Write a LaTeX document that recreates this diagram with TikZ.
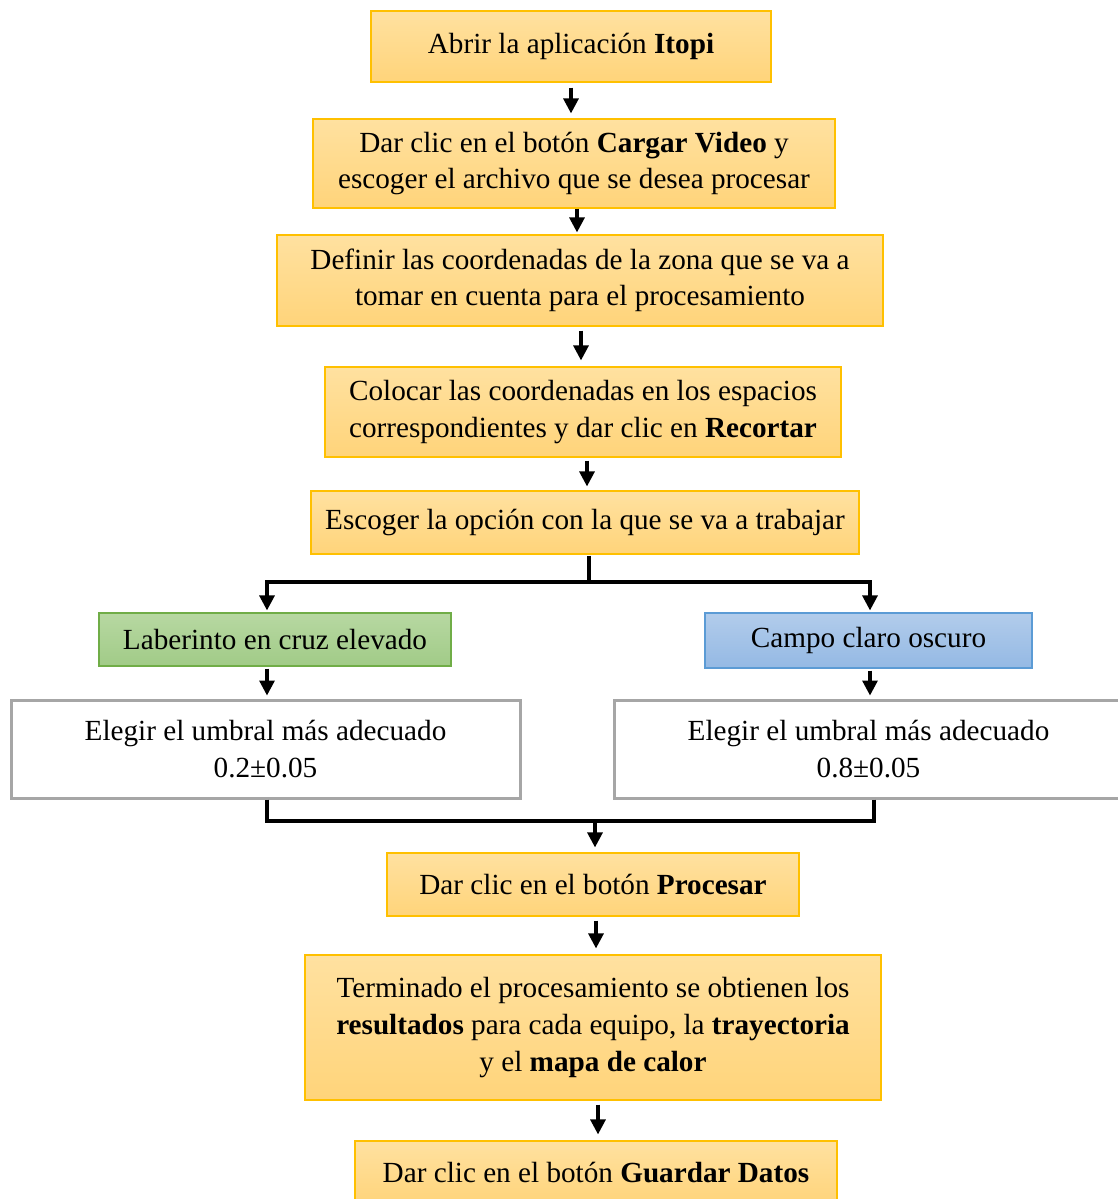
\documentclass[tikz,border=0pt]{standalone}
\usepackage{fontspec}
\setmainfont{Liberation Serif}
\usetikzlibrary{arrows.meta}
\definecolor{obord}{RGB}{255,192,0}
\definecolor{otop}{RGB}{255,225,160}
\definecolor{obot}{RGB}{255,212,122}
\definecolor{gbord}{RGB}{112,173,71}
\definecolor{gtop}{RGB}{183,216,162}
\definecolor{gbot}{RGB}{161,203,135}
\definecolor{bbord}{RGB}{91,155,213}
\definecolor{btop}{RGB}{178,204,235}
\definecolor{bbot}{RGB}{148,185,228}
\definecolor{wbord}{RGB}{166,166,166}
\tikzset{
  base/.style={rectangle, align=center, inner sep=0pt, font=\fontsize{14.6}{18.3}\selectfont},
  obox/.style={base, draw=obord, line width=0.6pt, top color=otop, bottom color=obot},
  gbox/.style={base, draw=gbord, line width=0.6pt, top color=gtop, bottom color=gbot},
  bbox/.style={base, draw=bbord, line width=0.6pt, top color=btop, bottom color=bbot},
  wbox/.style={base, draw=wbord, line width=1.5pt, fill=white},
  conn/.style={line width=1.6pt, black},
  arr/.style={conn, -{Triangle[length=7.5pt,width=7.5pt]}},
}
\begin{document}
\begin{tikzpicture}[x=0.5pt,y=-0.5pt]
\useasboundingbox (0,0) rectangle (1118,1199);
\node[obox, minimum width=200pt, minimum height=35.5pt] (n1) at (571,46.5) {Abrir la aplicación \textbf{Itopi}};
\node[obox, minimum width=261pt, minimum height=44.5pt] (n2) at (574,163.5) {Dar clic en el botón \textbf{Cargar Video} y\\escoger el archivo que se desea procesar};
\node[obox, minimum width=303pt, minimum height=45.5pt] (n3) at (580,280.5) {Definir las coordenadas de la zona que se va a\\tomar en cuenta para el procesamiento};
\node[obox, minimum width=258pt, minimum height=45pt] (n4) at (583,412) {Colocar las coordenadas en los espacios\\correspondientes y dar clic en \textbf{Recortar}};
\node[obox, minimum width=274pt, minimum height=31.5pt] (n5) at (585,522.5) {Escoger la opción con la que se va a trabajar};
\node[gbox, minimum width=176pt, minimum height=26.5pt] (n6) at (275,639.5) {Laberinto en cruz elevado};
\node[bbox, minimum width=163.5pt, minimum height=27.5pt] (n7) at (868.5,640.5) {Campo claro oscuro};
\node[wbox, minimum width=254.5pt, minimum height=49pt] (n8) at (265.5,749) {Elegir el umbral más adecuado\\0.2±0.05};
\node[wbox, minimum width=254.5pt, minimum height=49pt] (n9) at (868.5,749) {Elegir el umbral más adecuado\\0.8±0.05};
\node[obox, minimum width=206pt, minimum height=31.5pt] (n10) at (593,884.5) {Dar clic en el botón \textbf{Procesar}};
\node[obox, minimum width=288pt, minimum height=72.5pt] (n11) at (593,1027.5) {Terminado el procesamiento se obtienen los\\\textbf{resultados} para cada equipo, la \textbf{trayectoria}\\y el \textbf{mapa de calor}};
\node[obox, minimum width=241pt, minimum height=32pt] (n12) at (596,1173) {Dar clic en el botón \textbf{Guardar Datos}};
% straight arrows
\coordinate (a1) at (571,86);
\draw[arr] ([yshift=-2.5pt]n1.south -| a1) -- ([yshift=2.5pt]n2.north -| a1);
\coordinate (a2) at (577,208);
\draw[arr] (n2.south -| a2) -- ([yshift=1pt]n3.north -| a2);
\coordinate (a3) at (581,330);
\draw[arr] ([yshift=-2pt]n3.south -| a3) -- ([yshift=3pt]n4.north -| a3);
\coordinate (a4) at (587,460);
\draw[arr] ([yshift=-1.5pt]n4.south -| a4) -- ([yshift=2pt]n5.north -| a4);
% split
\coordinate (sp) at (589,582);
\coordinate (sl) at (267,582);
\coordinate (sr) at (870,582);
\draw[conn] ([yshift=-0.5pt]n5.south -| sp) -- (sp);
\draw[conn, line cap=rect] (sl) -- (sr);
\draw[arr] (sl) -- ([yshift=1pt]n6.north -| sl);
\draw[arr] (sr) -- ([yshift=1pt]n7.north -| sr);
\draw[arr] ([yshift=-1pt]n6.south -| sl) -- ([yshift=1.5pt]n8.north -| sl);
\draw[arr] ([yshift=-1pt]n7.south -| sr) -- ([yshift=1.5pt]n9.north -| sr);
% merge
\coordinate (ml) at (267,821);
\coordinate (mr) at (874,821);
\coordinate (mc) at (595,821);
\draw[conn] (n8.south -| ml) -- (ml);
\draw[conn] (n9.south -| mr) -- (mr);
\draw[conn, line cap=rect] (ml) -- (mr);
\draw[arr] (mc) -- ([yshift=2.5pt]n10.north -| mc);
\coordinate (a5) at (596,920);
\draw[arr] ([yshift=-2pt]n10.south -| a5) -- ([yshift=3pt]n11.north -| a5);
\coordinate (a6) at (598,1104);
\draw[arr] ([yshift=-2pt]n11.south -| a6) -- ([yshift=3pt]n12.north -| a6);
\end{tikzpicture}
\end{document}
